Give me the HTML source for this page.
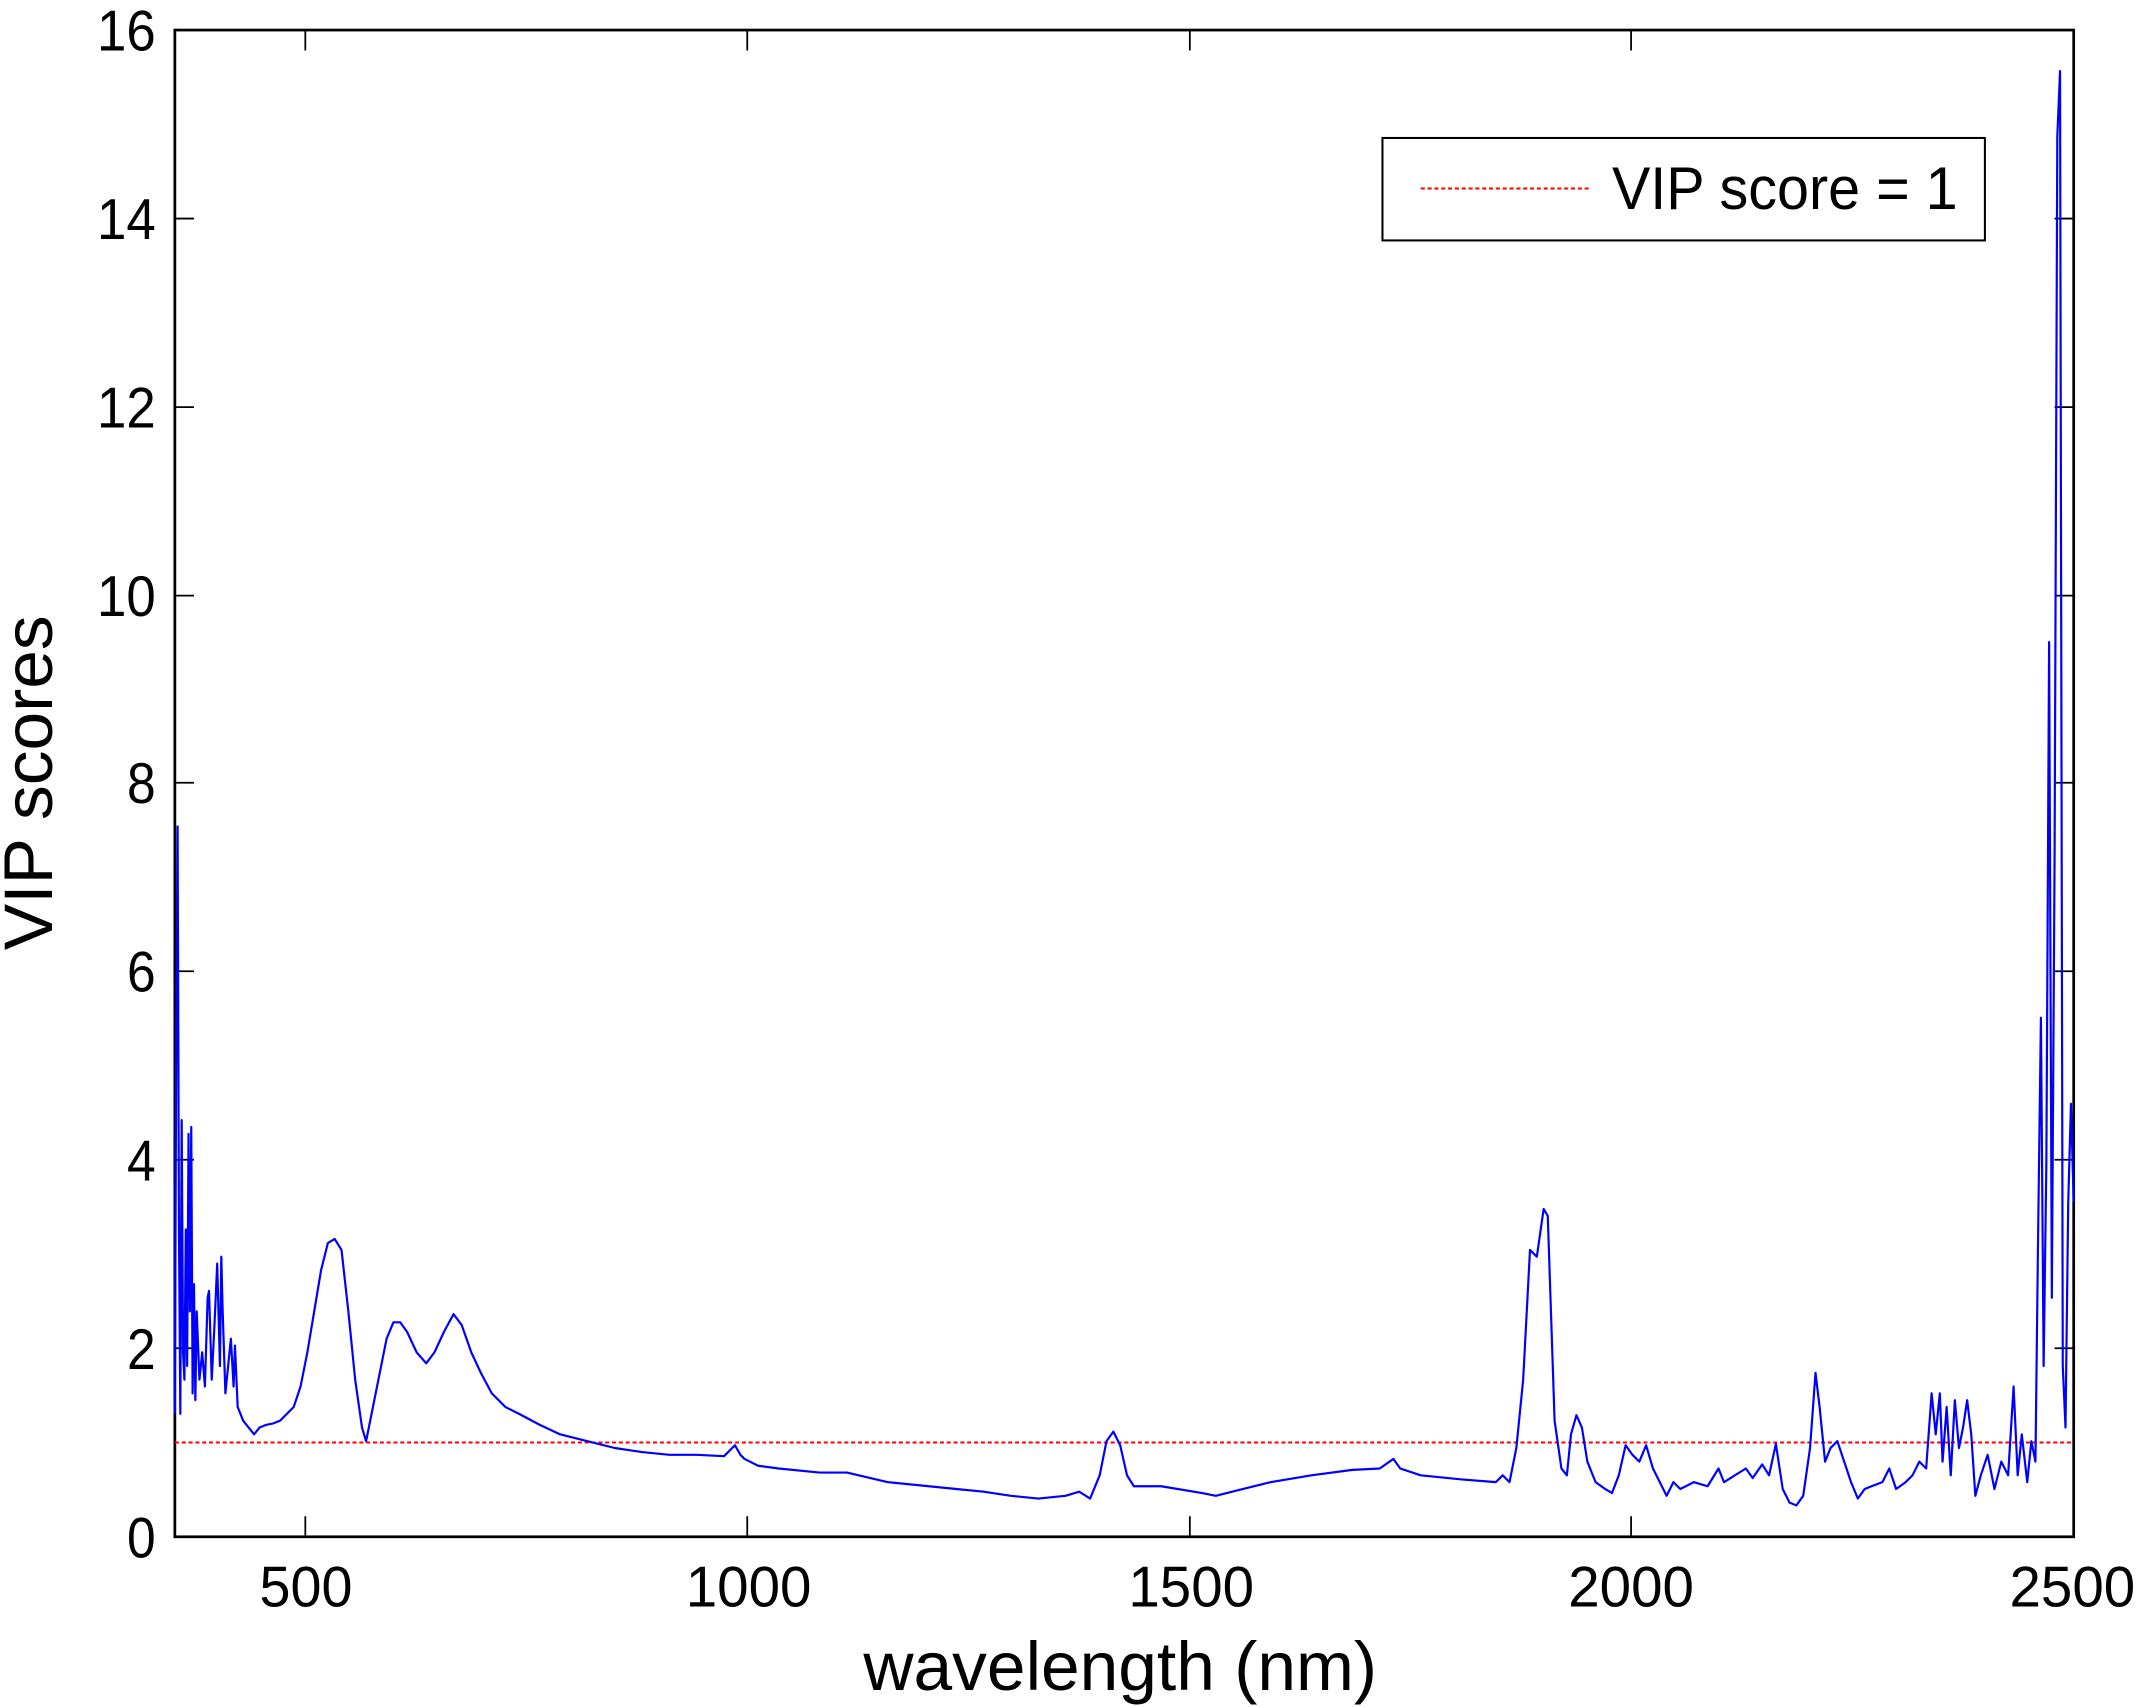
<!DOCTYPE html>
<html><head><meta charset="utf-8"><style>html,body{margin:0;padding:0;background:#fff}svg{display:block}</style></head>
<body>
<svg width="2142" height="1707" viewBox="0 0 1568 1249.6" preserveAspectRatio="none" xmlns="http://www.w3.org/2000/svg" font-family="Liberation Sans, sans-serif">
<rect width="1568" height="1250" fill="#fff"/>
<g stroke="#000" stroke-width="1.3" fill="none">
<rect x="128" y="22" width="1390" height="1103" stroke-width="2"/>
<path d="M223.5,1125v-15M547,1125v-15M871,1125v-15M1194,1125v-15M223.5,22v15M547,22v15M871,22v15M1194,22v15
M128,987h14M128,849h14M128,711h14M128,573h14M128,436h14M128,298h14M128,160h14
M1518,987h-14M1518,849h-14M1518,711h-14M1518,573h-14M1518,436h-14M1518,298h-14M1518,160h-14"/>
</g>
<g font-size="42" text-anchor="end" fill="#000">
<text x="114" y="1140" textLength="21" lengthAdjust="spacingAndGlyphs">0</text>
<text x="114" y="1002" textLength="21" lengthAdjust="spacingAndGlyphs">2</text>
<text x="114" y="864" textLength="21" lengthAdjust="spacingAndGlyphs">4</text>
<text x="114" y="726" textLength="21" lengthAdjust="spacingAndGlyphs">6</text>
<text x="114" y="588" textLength="21" lengthAdjust="spacingAndGlyphs">8</text>
<text x="114" y="451" textLength="43" lengthAdjust="spacingAndGlyphs">10</text>
<text x="114" y="313" textLength="43" lengthAdjust="spacingAndGlyphs">12</text>
<text x="114" y="175" textLength="43" lengthAdjust="spacingAndGlyphs">14</text>
<text x="114" y="37" textLength="43" lengthAdjust="spacingAndGlyphs">16</text>
</g>
<g font-size="42" text-anchor="middle" fill="#000">
<text x="224" y="1176" textLength="68" lengthAdjust="spacingAndGlyphs">500</text>
<text x="548" y="1176" textLength="92" lengthAdjust="spacingAndGlyphs">1000</text>
<text x="872" y="1176" textLength="92" lengthAdjust="spacingAndGlyphs">1500</text>
<text x="1194" y="1176" textLength="92" lengthAdjust="spacingAndGlyphs">2000</text>
<text x="1517" y="1176" textLength="92" lengthAdjust="spacingAndGlyphs">2500</text>
</g>
<text x="820" y="1237" font-size="50" text-anchor="middle" textLength="376" lengthAdjust="spacingAndGlyphs">wavelength (nm)</text>
<text transform="translate(38,573) rotate(-90)" font-size="50" text-anchor="middle" textLength="245" lengthAdjust="spacingAndGlyphs">VIP scores</text>
<line x1="128" y1="1056" x2="1518" y2="1056" stroke="#f00" stroke-width="1.5" stroke-dasharray="3,2"/>
<polyline fill="none" stroke="#0000ff" stroke-width="1.6" stroke-linejoin="round" points="128,1035 129,765 130,605 131,900 132,1035 133,820 134,990 135,1010 136,900 137,1000 138,830 139,960 140,825 141,1020 142,940 143,1025 144,960 146,1010 148,990 150,1015 152,950 153,945 155,1010 157,970 159,925 161,1000 162,920 163,960 165,1020 167,1000 169,980 171,1015 172,985 174,1030 178,1040 182,1045 186,1050 190,1045 195,1043 200,1042 205,1040 210,1035 215,1030 220,1015 225,990 230,960 235,930 240,910 245,907 250,915 255,960 260,1010 265,1045 268,1055 272,1035 278,1005 283,980 288,968 293,968 298,975 305,990 312,998 318,990 325,975 332,962 338,970 345,990 352,1005 360,1020 370,1030 380,1035 395,1043 410,1050 430,1055 450,1060 470,1063 490,1065 510,1065 530,1066 538,1058 542,1065 545,1068 555,1073 570,1075 600,1078 620,1078 650,1085 680,1088 700,1090 720,1092 740,1095 760,1097 780,1095 790,1092 798,1097 805,1080 810,1055 815,1048 820,1058 825,1080 830,1088 850,1088 880,1093 890,1095 910,1090 930,1085 960,1080 990,1076 1010,1075 1020,1068 1025,1075 1040,1080 1070,1083 1095,1085 1100,1080 1105,1085 1110,1060 1115,1010 1120,915 1125,920 1130,885 1133,890 1135,950 1138,1040 1143,1075 1147,1080 1150,1050 1154,1036 1158,1045 1162,1070 1168,1085 1175,1090 1180,1093 1185,1080 1190,1058 1195,1065 1200,1070 1205,1058 1210,1075 1215,1085 1220,1095 1225,1085 1230,1090 1240,1085 1250,1088 1258,1075 1262,1085 1270,1080 1278,1075 1283,1082 1290,1072 1295,1080 1300,1057 1305,1090 1310,1100 1315,1102 1320,1095 1325,1060 1329,1005 1332,1030 1336,1070 1340,1060 1345,1055 1350,1070 1355,1085 1360,1097 1365,1090 1370,1088 1378,1085 1383,1075 1388,1090 1395,1085 1400,1080 1405,1070 1410,1075 1414,1020 1417,1050 1420,1020 1422,1070 1425,1030 1428,1080 1431,1025 1434,1060 1437,1045 1440,1025 1443,1050 1446,1095 1450,1080 1455,1065 1460,1090 1465,1070 1470,1080 1474,1015 1477,1080 1480,1050 1484,1085 1487,1055 1490,1070 1492,900 1494,745 1496,1000 1498,850 1500,470 1502,950 1504,630 1506,100 1508,52 1510,1000 1512,1045 1514,880 1516,808 1518,880"/>
<rect x="1012" y="101" width="441" height="75" fill="#fff" stroke="#000" stroke-width="1.5"/>
<line x1="1040" y1="138" x2="1165" y2="138" stroke="#f00" stroke-width="1.5" stroke-dasharray="3,2"/>
<text x="1180" y="153" font-size="44" textLength="253" lengthAdjust="spacingAndGlyphs">VIP score = 1</text>
</svg>
</body></html>
